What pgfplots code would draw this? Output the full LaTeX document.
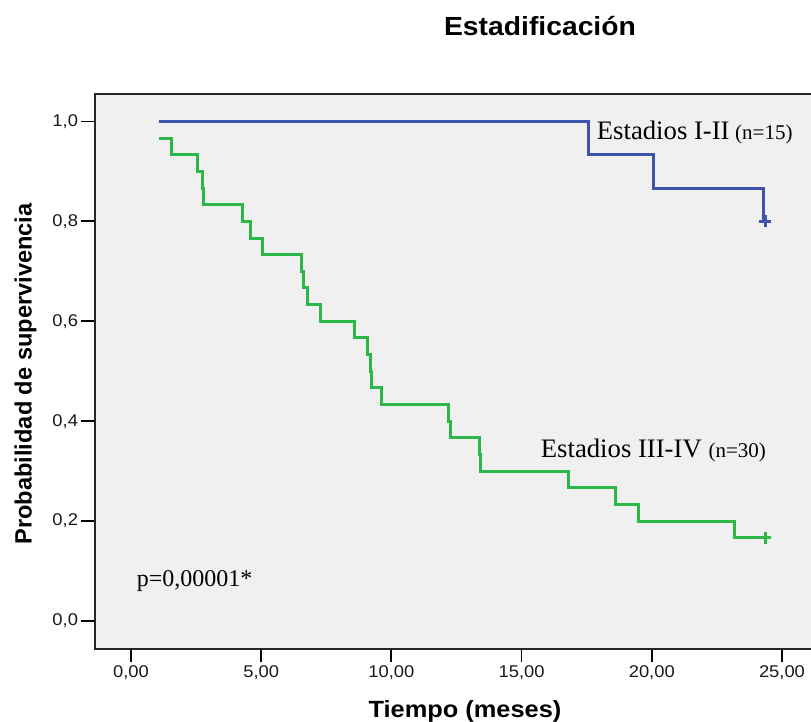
\documentclass[border=0pt]{standalone}
\usepackage{fontspec}
\setmainfont{Liberation Sans}
\newfontfamily\sansw{Liberation Sans}[FakeStretch=1.08]
\newfontfamily\serif{Liberation Serif}
\usepackage{pgfplots}
\pgfplotsset{compat=1.18}

\definecolor{kmblue}{RGB}{62,84,172}
\definecolor{kmgreen}{RGB}{44,184,72}
\definecolor{panel}{RGB}{240,240,240}

\begin{document}
\begin{tikzpicture}[x=1pt,y=1pt]
\begin{axis}[
    at={(95pt,-648.7pt)}, anchor=south west,
    scale only axis,
    width=719pt, height=554.7pt,
    xmin=-1.3825, xmax=26.23,
    ymin=-0.0555, ymax=1.055,
    axis background/.style={fill=panel},
    axis line style={black!85, line width=1.8pt},
    xtick={0,5,10,15,20,25},
    ytick={0,0.2,0.4,0.6,0.8,1},
    xtick pos=left, ytick pos=left,
    tick align=outside,
    major tick length=13.5pt,
    tick style={black, line width=1.8pt},
    every tick label/.append style={font=\sansw\fontsize{17}{20}\selectfont, text=black!90},
    /pgf/number format/assume math mode=true,
    x tick label style={/pgf/number format/use comma, /pgf/number format/fixed,
        /pgf/number format/fixed zerofill, /pgf/number format/precision=2},
    y tick label style={/pgf/number format/use comma, /pgf/number format/fixed,
        /pgf/number format/fixed zerofill, /pgf/number format/precision=1},
]

% Estadios I-II (n=15)
\addplot[kmblue, line width=3pt, const plot] coordinates {
    (1.087,1.0) (17.577,0.9333) (20.085,0.8667) (24.282,0.8) (24.42,0.8)
};

% Estadios III-IV (n=30)
\addplot[kmgreen, line width=3pt, const plot] coordinates {
    (1.087,0.9667) (1.563,0.9333) (2.535,0.9) (2.727,0.8667) (2.803,0.8333)
    (4.274,0.8) (4.597,0.7667) (5.058,0.7333) (6.540,0.7) (6.632,0.6667)
    (6.770,0.6333) (7.296,0.6) (8.564,0.5667) (9.101,0.5333) (9.190,0.5)
    (9.217,0.4667) (9.628,0.4333) (12.174,0.4) (12.289,0.3667) (13.402,0.3333)
    (13.441,0.3) (16.820,0.2667) (18.598,0.2333) (19.482,0.2) (23.168,0.1667)
    (24.54,0.1667)
};

% censored
\addplot[only marks, mark=+, mark size=6pt, kmblue, mark options={line width=3pt}]
    coordinates {(24.36,0.8)};
\addplot[only marks, mark=+, mark size=6pt, kmgreen, mark options={line width=3pt}]
    coordinates {(24.36,0.1667)};
\end{axis}

\node[anchor=base, font=\sansw\bfseries\fontsize{26.2}{30}\selectfont] at (540,-36) {Estadificación};
\node[anchor=base, font=\sansw\bfseries\fontsize{23.5}{28}\selectfont] at (465,-717) {Tiempo (meses)};
\node[rotate=90, anchor=base, font=\bfseries\fontsize{23.6}{28}\selectfont] at (31.7,-374) {Probabilidad de supervivencia};

\node[anchor=base west, inner sep=0, font=\serif\fontsize{26.7}{30}\selectfont] at (596.7,-140) {Estadios I-II};
\node[anchor=base west, inner sep=0, font=\serif\fontsize{21}{24}\selectfont] at (735,-140) {(n=15)};
\node[anchor=base west, inner sep=0, font=\serif\fontsize{26.7}{30}\selectfont] at (540.7,-457.3) {Estadios III-IV};
\node[anchor=base west, inner sep=0, font=\serif\fontsize{21}{24}\selectfont] at (708.3,-457.3) {(n=30)};
\node[anchor=base west, inner sep=0, font=\serif\fontsize{24}{28}\selectfont] at (136.7,-586) {p=0,00001*};

\pgfresetboundingbox
\useasboundingbox (0,0) rectangle (811,-722);
\end{tikzpicture}
\end{document}
